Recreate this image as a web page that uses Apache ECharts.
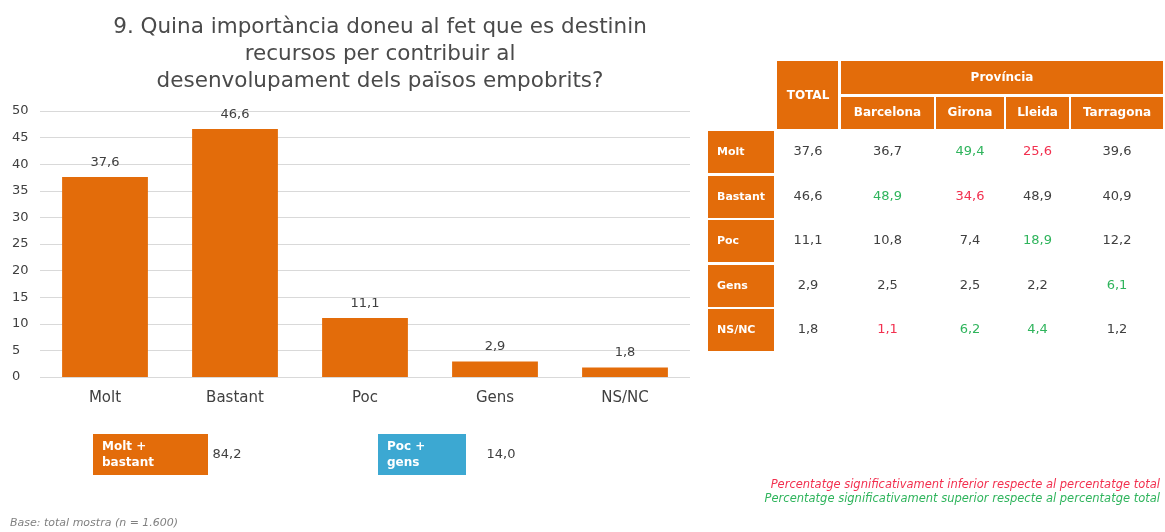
<!DOCTYPE html>
<html>
<head>
<meta charset="utf-8">
<script src="https://cdn.jsdelivr.net/npm/echarts@6/dist/echarts.min.js"></script>
<style>
  html, body { margin: 0; padding: 0; background: #fff; }
  #chart { width: 1165px; height: 532px; }
</style>
</head>
<body>
<div id="chart"></div>
<script>
// bar chart data
const categories = ['Molt', 'Bastant', 'Poc', 'Gens', 'NS/NC']
const totals = [37.6, 46.6, 11.1, 2.9, 1.8]
const yTicks = [0, 5, 10, 15, 20, 25, 30, 35, 40, 45, 50]

// table data
const provinces = ['Barcelona', 'Girona', 'Lleida', 'Tarragona']
const barcelona = [36.7, 48.9, 10.8, 2.5, 1.1]
const girona = [49.4, 34.6, 7.4, 2.5, 6.2]
const lleida = [25.6, 48.9, 18.9, 2.2, 4.4]
const tarragona = [39.6, 40.9, 12.2, 6.1, 1.2]
// significance: 1 = superior (green), -1 = inferior (red), 0 = none
const sigBarcelona = [0, 1, 0, 0, -1]
const sigGirona = [1, -1, 0, 0, 1]
const sigLleida = [-1, 0, 1, 0, 1]
const sigTarragona = [0, 0, 0, 1, 0]

// summary boxes
const summaryLabels = ['Molt +\nbastant', 'Poc +\ngens']
const summaryValues = [84.2, 14.0]

const ORANGE = '#e36c0a'
const BLUE = '#3ca8d2'
const GREEN = '#2fb45c'
const RED = '#f2304f'
const TXT = '#404040'
const FONT = 'DejaVu Sans'

const fmt = v => v.toFixed(1).replace('.', ',')

// table layout
const colX = [777, 841, 936, 1006, 1071]
const colW = [61, 93, 68, 63, 92]
const rowY = [131, 176, 220, 265, 309]
const rowH = 42
const provCols = [barcelona, girona, lleida, tarragona]
const provSig = [sigBarcelona, sigGirona, sigLleida, sigTarragona]

const graphics = []
const cell = (x, y, w, h, color) => ({
  type: 'rect', shape: { x, y, width: w, height: h }, style: { fill: color }
})
const txt = (x, y, text, opts) => ({
  type: 'text', x, y,
  style: Object.assign({ text, fontFamily: FONT, fontSize: 13, fill: TXT, align: 'center', verticalAlign: 'middle' }, opts)
})

// header
graphics.push(cell(777, 61, 61, 68, ORANGE))
graphics.push(txt(808, 96, 'TOTAL', { fill: '#fff', fontWeight: 'bold', fontSize: 12 }))
graphics.push(cell(841, 61, 322, 33, ORANGE))
graphics.push(txt(1002, 78, 'Província', { fill: '#fff', fontWeight: 'bold', fontSize: 12 }))
provinces.forEach((p, i) => {
  graphics.push(cell(colX[i + 1], 97, colW[i + 1], 32, ORANGE))
  graphics.push(txt(colX[i + 1] + colW[i + 1] / 2, 113, p, { fill: '#fff', fontWeight: 'bold', fontSize: 12 }))
})
// rows
categories.forEach((c, r) => {
  const cy = rowY[r] + rowH / 2
  graphics.push(cell(708, rowY[r], 66, rowH, ORANGE))
  graphics.push(txt(717, cy, c, { fill: '#fff', fontWeight: 'bold', fontSize: 11, align: 'left' }))
  graphics.push(txt(808, cy, fmt(totals[r])))
  provCols.forEach((col, i) => {
    const s = provSig[i][r]
    graphics.push(txt(colX[i + 1] + colW[i + 1] / 2, cy, fmt(col[r]), { fill: s === 1 ? GREEN : s === -1 ? RED : TXT }))
  })
})

// summary boxes
const boxes = [{ x: 93, w: 115, color: ORANGE, tx: 227 }, { x: 378, w: 88, color: BLUE, tx: 501 }]
boxes.forEach((b, i) => {
  graphics.push(cell(b.x, 434, b.w, 41, b.color))
  graphics.push(txt(b.x + 9, 455, summaryLabels[i], { fill: '#fff', fontWeight: 'bold', fontSize: 12, align: 'left', lineHeight: 16 }))
  graphics.push(txt(b.tx, 455, fmt(summaryValues[i])))
})

// legend notes + base
graphics.push(txt(1160, 485, 'Percentatge significativament inferior respecte al percentatge total', { fill: RED, fontSize: 11.5, fontStyle: 'italic', align: 'right' }))
graphics.push(txt(1160, 499, 'Percentatge significativament superior respecte al percentatge total', { fill: GREEN, fontSize: 11.5, fontStyle: 'italic', align: 'right' }))
graphics.push(txt(10, 523, 'Base: total mostra (n = 1.600)', { fill: '#808080', fontSize: 11, fontStyle: 'italic', align: 'left' }))

const chart = echarts.init(document.getElementById('chart'))
chart.setOption({
  animation: false,
  title: {
    text: '9. Quina importància doneu al fet que es destinin\nrecursos per contribuir al\ndesenvolupament dels països empobrits?',
    left: 375,
    top: 9,
    textAlign: 'center',
    textStyle: { fontFamily: FONT, fontSize: 21.5, fontWeight: 'normal', color: '#4a4a4a', lineHeight: 27, align: 'center' }
  },
  grid: { left: 40, right: 475, top: 111, bottom: 155 },
  xAxis: {
    type: 'category',
    data: categories,
    axisLine: { show: false },
    axisTick: { show: false },
    axisLabel: { fontFamily: FONT, fontSize: 15, color: TXT, margin: 14 }
  },
  yAxis: {
    type: 'value',
    min: yTicks[0],
    max: yTicks[yTicks.length - 1],
    interval: 5,
    axisLabel: { fontFamily: FONT, fontSize: 13, color: TXT, margin: 28, align: 'left' },
    splitLine: { lineStyle: { color: '#d9d9d9', width: 1 } }
  },
  series: [{
    type: 'bar',
    data: totals,
    barWidth: '66%',
    itemStyle: { color: ORANGE },
    label: {
      show: true,
      position: 'top',
      distance: 8,
      fontFamily: FONT,
      fontSize: 13,
      color: TXT,
      formatter: p => fmt(p.value)
    }
  }],
  graphic: graphics
})
</script>
</body>
</html>
